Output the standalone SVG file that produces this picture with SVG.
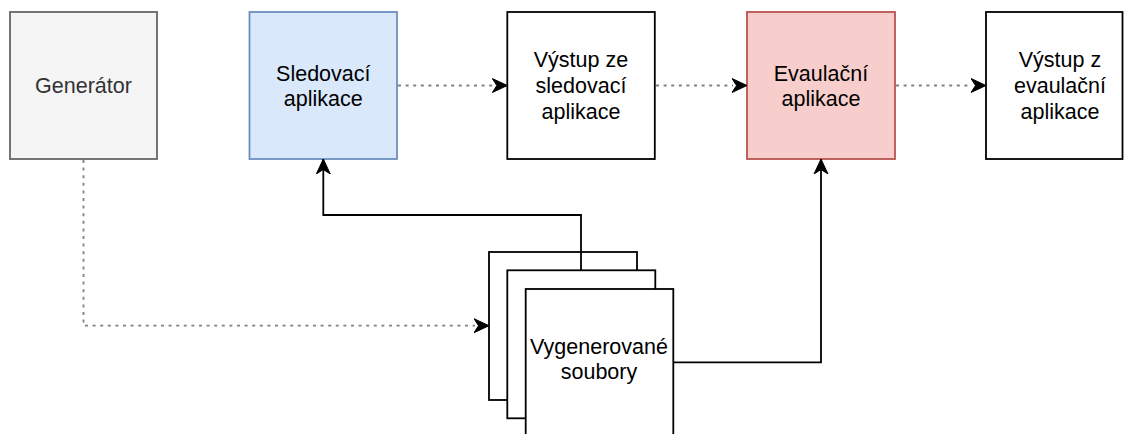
<svg xmlns="http://www.w3.org/2000/svg" width="1124" height="434" viewBox="0 0 1124 434">
  <defs>
    <style>
      .box { stroke-width: 1.8; }
      .plain { fill: #ffffff; stroke: #000000; }
      .lbl { font-family: "Liberation Sans", Arial, Helvetica, sans-serif; font-size: 21.5px; fill: #000000; text-anchor: middle; }
      .dotted { fill: none; stroke: #808080; stroke-width: 1.8; stroke-dasharray: 3 4.6; }
      .solid { fill: none; stroke: #000000; stroke-width: 1.8; }
    </style>
    <marker id="arrow" viewBox="-15 -8 16 16" refX="0" refY="0" markerWidth="16" markerHeight="16" markerUnits="userSpaceOnUse" orient="auto">
      <path d="M0,0 L-15,-7 L-10.5,0 L-15,7 Z" fill="#000000" stroke="#000000" stroke-width="1" stroke-linejoin="miter"/>
    </marker>
  </defs>

  <rect width="1124" height="434" fill="#ffffff"/>

  <!-- top row -->
  <g id="generator">
    <rect class="box" x="10" y="12" width="147" height="147" fill="#f5f5f5" stroke="#666666"/>
    <text class="lbl" x="83.5" y="93.3" style="fill:#333333">Generátor</text>
  </g>

  <g id="sledovaci-aplikace">
    <rect class="box" x="249.5" y="12" width="147.5" height="147" fill="#dae8fc" stroke="#6c8ebf"/>
    <text class="lbl" x="323.3" y="81">Sledovací</text>
    <text class="lbl" x="323.3" y="106">aplikace</text>
  </g>

  <g id="vystup-sledovaci">
    <rect class="box plain" x="507.3" y="12" width="147.5" height="147"/>
    <text class="lbl" x="581" y="67">Výstup ze</text>
    <text class="lbl" x="581" y="93">sledovací</text>
    <text class="lbl" x="581" y="119">aplikace</text>
  </g>

  <g id="evaulacni-aplikace">
    <rect class="box" x="747" y="12" width="148" height="147" fill="#f8cecc" stroke="#b85450"/>
    <text class="lbl" x="821" y="81">Evaulační</text>
    <text class="lbl" x="821" y="106">aplikace</text>
  </g>

  <g id="vystup-evaulacni">
    <rect class="box plain" x="986" y="12" width="136.5" height="147"/>
    <text class="lbl" x="1060" y="67">Výstup z</text>
    <text class="lbl" x="1060" y="93">evaulační</text>
    <text class="lbl" x="1060" y="119">aplikace</text>
  </g>

  <!-- stacked documents -->
  <g id="vygenerovane-soubory">
    <rect class="box plain" x="489" y="252" width="148" height="148"/>
    <rect class="box plain" x="507.3" y="270.3" width="148" height="148"/>
    <rect class="box plain" x="525.7" y="289" width="147.6" height="160"/>
    <text class="lbl" x="599" y="353.5">Vygenerované</text>
    <text class="lbl" x="599" y="379">soubory</text>
  </g>

  <!-- connectors -->
  <g id="connectors">
    <path class="dotted" d="M398,85.5 L493,85.5"/>
    <path class="dotted" d="M656,85.5 L733,85.5"/>
    <path class="dotted" d="M896,85.5 L972,85.5"/>
    <path class="dotted" d="M83.5,160 L83.5,325.7 L475,325.7"/>
    <line x1="493" y1="85.5" x2="507.3" y2="85.5" stroke="none" marker-end="url(#arrow)"/>
    <line x1="733" y1="85.5" x2="747" y2="85.5" stroke="none" marker-end="url(#arrow)"/>
    <line x1="972" y1="85.5" x2="986" y2="85.5" stroke="none" marker-end="url(#arrow)"/>
    <line x1="475" y1="325.7" x2="489" y2="325.7" stroke="none" marker-end="url(#arrow)"/>
    <path class="solid" d="M581,270.3 L581,215 L323.3,215 L323.3,159" marker-end="url(#arrow)"/>
    <path class="solid" d="M673.3,362.3 L821,362.3 L821,159" marker-end="url(#arrow)"/>
  </g>
</svg>
